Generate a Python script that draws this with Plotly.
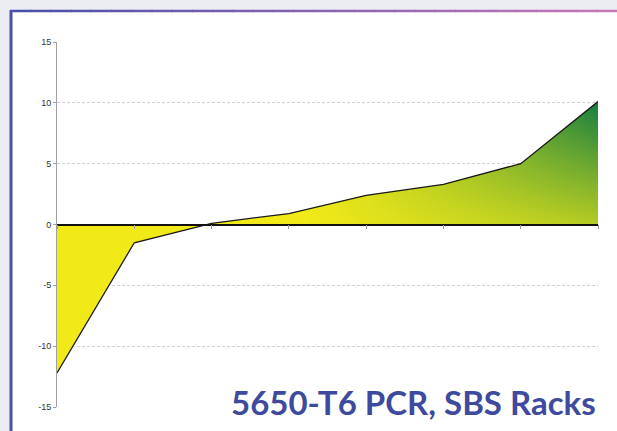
import plotly.graph_objects as go

# category positions along the bottom axis (no labels shown on the chart)
positions = [0, 1, 2, 3, 4, 5, 6, 7]
# series values
values = [-12.2, -1.5, 0.1, 0.9, 2.4, 3.3, 5.0, 10.1]
y_ticks = [-15, -10, -5, 0, 5, 10, 15]
y_tick_labels = ["-15", "-10", "-5", "0", "5", "10", "15"]
title_text = "5650-T6 PCR, SBS Racks"

W, H = 617, 431
ML, MR, MT, MB = 57, 19, 42, 24
PW, PH = W - ML - MR, H - MT - MB


def px_x(px):
    return (px - ML) / PW


def px_y(py):
    return (H - MB - py) / PH


fig = go.Figure()

# base fill: yellow to green from left to right
fig.add_trace(go.Scatter(
    x=positions, y=values, mode="lines", fill="tozeroy",
    line=dict(width=0, color="rgba(0,0,0,0)"),
    fillgradient=dict(type="horizontal", start=3.15, stop=7,
                      colorscale=[[0, "rgb(242,234,24)"], [1, "rgb(22,126,64)"]]),
    hoverinfo="skip", showlegend=False,
))
# yellow wash fading upward, gives the diagonal look
fig.add_trace(go.Scatter(
    x=positions, y=values, mode="lines", fill="tozeroy",
    line=dict(width=1.3, color="#1a1a1a"),
    fillgradient=dict(type="vertical", start=0, stop=10,
                      colorscale=[[0, "rgba(242,234,24,0.72)"], [1, "rgba(242,234,24,0)"]]),
    showlegend=False,
))

shapes = []
# white panel
shapes.append(dict(type="rect", xref="paper", yref="paper", layer="below",
                   x0=px_x(11), x1=px_x(W + 5), y0=px_y(H + 5), y1=px_y(11),
                   fillcolor="white", line=dict(width=0)))
# left border
shapes.append(dict(type="line", xref="paper", yref="paper",
                   x0=px_x(11), x1=px_x(11), y0=px_y(H + 5), y1=px_y(10),
                   line=dict(color="#4a50a8", width=3)))
# top border, blue to purple
n = 30
c0, c1 = (74, 80, 168), (198, 120, 184)
for i in range(n):
    t = i / (n - 1)
    c = tuple(int(a + (b - a) * t) for a, b in zip(c0, c1))
    xa = 10 + (W - 10) * i / n
    xb = 10 + (W - 10) * (i + 1) / n + 1
    shapes.append(dict(type="line", xref="paper", yref="paper",
                       x0=px_x(xa), x1=px_x(xb), y0=px_y(11), y1=px_y(11),
                       line=dict(color="rgb(%d,%d,%d)" % c, width=2.5)))

fig.update_layout(
    width=W, height=H,
    margin=dict(l=ML, r=MR, t=MT, b=MB),
    paper_bgcolor="#ececf3",
    plot_bgcolor="white",
    shapes=shapes,
    font=dict(family="Arial, Liberation Sans", color="#333333", size=9),
    xaxis=dict(range=[0, 7], tickvals=positions, showticklabels=False,
               showgrid=False, zeroline=False, anchor="free", position=0.5,
               showline=True, linecolor="#111111", linewidth=1.5,
               ticks="outside", ticklen=4, tickcolor="#999999"),
    yaxis=dict(range=[-15, 15], tickvals=y_ticks, ticktext=y_tick_labels,
               showgrid=True, gridcolor="#d2d2d2", griddash="3px,2px", gridwidth=1,
               zeroline=True, zerolinecolor="#111111", zerolinewidth=1.5,
               showline=True, linecolor="#a0a0a0", linewidth=1,
               ticks="outside", ticklen=3, tickcolor="#a0a0a0"),
    annotations=[dict(text="<b>%s</b>" % title_text, xref="paper", yref="paper",
                      x=px_x(598), y=px_y(402), xanchor="right", yanchor="middle",
                      showarrow=False,
                      font=dict(family="Lato", size=33, color="#3d4a9e"))],
)

# drop the page's default body margin so the figure sits at the window corner
fig.write_html("out.html", config={"displayModeBar": False},
               post_script="document.body.style.margin='0';")
